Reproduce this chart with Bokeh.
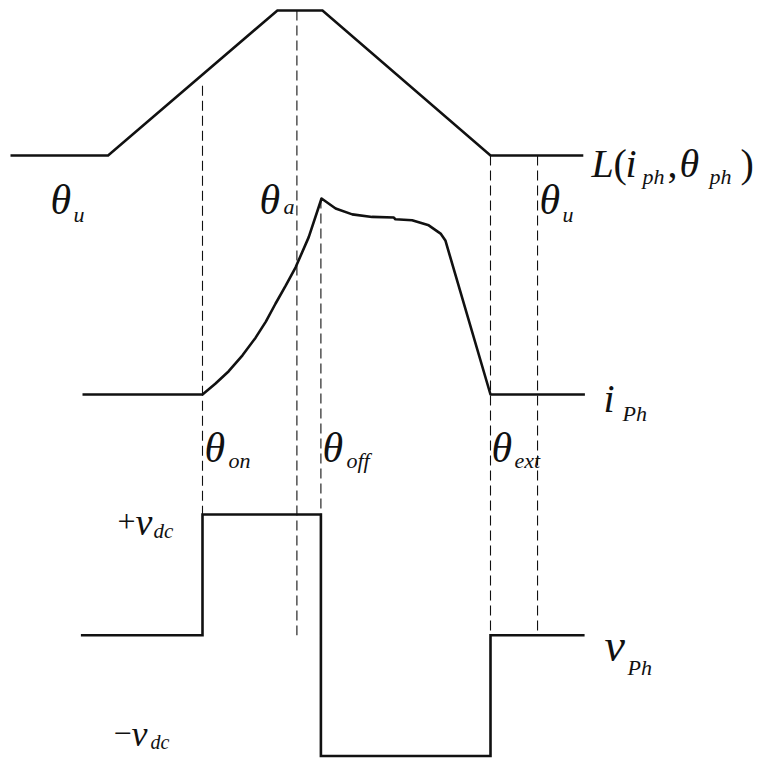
import numpy as np
from bokeh.plotting import figure
from bokeh.models import Range1d
from bokeh.core.properties import value
from bokeh.embed import file_html
from bokeh.resources import INLINE

# ---------------- data (rotor angle in degrees) ----------------
theta_on = 60.0
theta_a = 89.5
theta_off = 97.0
theta_ext = 150.0
theta_u = 164.7

# phase inductance profile L(i_ph, theta_ph), normalised (0 = unaligned, 1 = aligned)
L_angle = [0.0, 30.5, 83.4, 97.5, 150.0, 179.0]
L_value = [0.0, 0.0, 1.0, 1.0, 0.0, 0.0]

# phase current i_Ph, normalised to its peak
i_angle = [22.5, 60.0, 64.0, 68.2, 72.5, 76.6, 79.8, 82.8, 86.0, 89.1, 93.2, 97.2,
           101.6, 106.8, 113.0, 119.8, 120.3, 125.5, 130.7, 134.4, 135.9, 150.0, 179.5]
i_value = [0.0, 0.0, 0.055, 0.119, 0.200, 0.290, 0.372, 0.463, 0.555, 0.649, 0.803, 1.0,
           0.949, 0.919, 0.906, 0.903, 0.894, 0.889, 0.863, 0.821, 0.786, 0.0, 0.0]

# phase voltage v_Ph in units of v_dc
v_angle = [22.0, 60.0, 60.0, 97.0, 97.0, 150.0, 150.0, 179.4]
v_value = [0.0, 0.0, 1.0, 1.0, -1.0, -1.0, 0.0, 0.0]

# ---------------- layout helpers ----------------
W, H = 764, 758
PAGE_TOP, PAGE_BOTTOM = 0, H


def panel_range(v0, py0, v1, py1):
    k = (v1 - v0) / (py1 - py0)
    return Range1d(start=v0 + (PAGE_BOTTOM - py0) * k, end=v0 + (PAGE_TOP - py0) * k)


def to_page(rng, v):
    return PAGE_BOTTOM - (v - rng.start) / (rng.end - rng.start) * H


p = figure(width=W, height=H, output_backend="svg", toolbar_location=None,
           x_range=Range1d(-10 / 3.2, (W - 10) / 3.2), y_range=Range1d(PAGE_BOTTOM, PAGE_TOP),
           min_border=0, min_border_left=0, min_border_right=0,
           min_border_top=0, min_border_bottom=0)
p.axis.visible = False
p.grid.visible = False
p.outline_line_color = None
p.background_fill_color = "white"
p.border_fill_color = "white"

L_rng = panel_range(0.0, 155.0, 1.0, 10.0)
i_rng = panel_range(0.0, 394.0, 1.0, 198.0)
v_rng = panel_range(1.0, 514.0, -1.0, 755.5)
p.extra_y_ranges = {"L": L_rng, "i": i_rng, "v": v_rng}
p.extra_x_ranges = {"page": Range1d(0, W)}

INK = "#111111"
LW = 2.6

# ---------------- guide lines (dashed) ----------------
L_at_on = float(np.interp(theta_on, L_angle, L_value))
g_x = [theta_on, theta_a, theta_off, theta_ext, theta_u]
g_top = [to_page(L_rng, L_at_on) + 11, to_page(L_rng, 1.0), to_page(i_rng, 1.0),
         to_page(L_rng, 0.0), to_page(L_rng, 0.0)]
g_bot = [to_page(v_rng, 1.0), to_page(v_rng, 0.0), to_page(v_rng, 1.0),
         to_page(v_rng, 0.0), to_page(v_rng, 0.0) - 4]
p.segment(x0=g_x, y0=g_top, x1=g_x, y1=g_bot, line_color=INK,
          line_width=1.1, line_dash="10 5")

# ---------------- waveforms ----------------
p.line(L_angle, L_value, y_range_name="L", line_color=INK, line_width=LW, line_join="miter")
p.line(i_angle, i_value, y_range_name="i", line_color=INK, line_width=LW, line_join="round")
p.line(v_angle, v_value, y_range_name="v", line_color=INK, line_width=LW, line_join="miter")

# ---------------- labels ----------------
SERIF = value("Liberation Serif")


def txt(s, x, y, size, style="italic"):
    p.text(x=[x], y=[y], text=[s], x_range_name="page", text_font=SERIF,
           text_font_size=f"{size}px", text_font_style=style, text_color=INK,
           text_baseline="alphabetic", text_align="left")


TH = 42
SUB = 22
# theta_u (left), theta_a, theta_u (right)
txt("θ", 50, 199, TH); txt("u", 73, 214, SUB)
txt("θ", 259, 199, TH); txt("a", 283, 206, SUB)
txt("θ", 539, 199, TH); txt("u", 562, 214, SUB)
# L(i_ph, theta_ph)
txt("L", 591, 163, 40); txt("(", 613, 163, 40, "normal"); txt("i", 625, 163, 40)
txt("ph", 642, 176, SUB); txt(",", 667, 163, 40, "normal"); txt("θ", 679, 163, 40)
txt("ph", 709, 176, SUB); txt(")", 740, 163, 40, "normal")
# i_Ph
txt("i", 603, 398, 40); txt("Ph", 622, 413, SUB)
# theta_on, theta_off, theta_ext
txt("θ", 204, 447, TH); txt("on", 228, 460, SUB)
txt("θ", 322, 447, TH); txt("off", 346, 460, SUB)
txt("θ", 491, 447, TH); txt("ext", 514, 460, SUB)
# +v_dc, -v_dc
txt("+", 117, 521, 32, "normal"); txt("v", 135, 521, 38); txt("dc", 153, 530, 21)
txt("−", 113, 733, 32, "normal"); txt("v", 131, 733, 36); txt("dc", 150, 741, 20)
# v_Ph
txt("v", 604, 645, 46); txt("Ph", 627, 667, SUB)

open("out.html", "w").write(file_html(p, INLINE))
